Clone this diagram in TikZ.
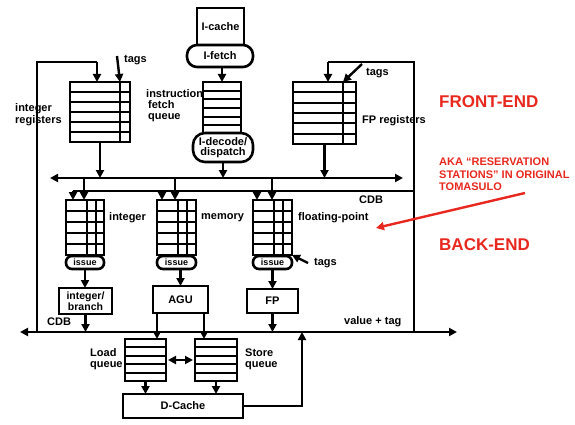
\documentclass[tikz,border=0pt]{standalone}
\usepackage{fontspec}
\setmainfont{Liberation Sans}
\usetikzlibrary{arrows.meta,calc}
\definecolor{redtxt}{RGB}{232,40,30}
\newcommand\lblfont{\fontsize{11}{12}\selectfont\bfseries}
\newcommand\myrows[3]{\foreach \k in {1,...,#3}{\draw[gridln] ($(#1.north west)!\k/#2!(#1.south west)$) -- ($(#1.north east)!\k/#2!(#1.south east)$);}}
\newcommand\mycol[2]{\draw[gridln] ([xshift=#2pt]#1.north west) -- ([xshift=#2pt]#1.south west);}
\begin{document}
\begin{tikzpicture}[x=1pt,y=-1pt,line width=2.4pt,
  bx/.style={draw,fill=white,rectangle,inner sep=0pt,outer sep=0pt,line width=2.6pt,font=\lblfont,align=center},
  arr/.style={-{Triangle[length=8pt,width=8pt]}},
  darr/.style={{Triangle[length=8pt,width=8pt]}-{Triangle[length=8pt,width=8pt]}},
  lbl/.style={inner sep=0pt,font=\lblfont,align=left},
  gridln/.style={line width=2pt},
  rtxt/.style={inner sep=0pt,text=redtxt,align=left}]
\useasboundingbox (0,0) rectangle (575,425);

% ---------- front end ----------
\node[bx,minimum width=47pt,minimum height=37pt] (icache) at (220.5,26.5) {I-cache};
\node[bx,rounded corners=10pt,minimum width=66pt,minimum height=22pt] (ifetch) at (220,56) {I-fetch};
\node[bx,minimum width=38pt,minimum height=52pt] (fq) at (222,108) {};
\myrows{fq}{6}{5}
\node[bx,rounded corners=12pt,minimum width=60pt,minimum height=29pt,font=\fontsize{11}{10}\selectfont\bfseries] (idec) at (223,147.5) {I-decode/\\dispatch};

\node[bx,minimum width=60pt,minimum height=60pt] (intreg) at (100,112) {};
\myrows{intreg}{6}{5}
\mycol{intreg}{50}
\node[bx,minimum width=63pt,minimum height=62pt] (fpreg) at (324.5,113) {};
\myrows{fpreg}{6}{5}
\mycol{fpreg}{50}

% ---------- reservation stations ----------
\node[bx,minimum width=38pt,minimum height=55pt] (rs1) at (85,227.5) {};
\node[bx,minimum width=39pt,minimum height=55pt] (rs2) at (176.5,227.5) {};
\node[bx,minimum width=39pt,minimum height=55pt] (rs3) at (272.5,227.5) {};
\foreach \r in {rs1,rs2,rs3}{\myrows{\r}{5}{4}\mycol{\r}{21}\mycol{\r}{30}}
\node[bx,rounded corners=6pt,minimum width=38pt,minimum height=13pt,font=\fontsize{9}{9}\selectfont\bfseries] (is1) at (85,262.5) {issue};
\node[bx,rounded corners=6pt,minimum width=39pt,minimum height=13pt,font=\fontsize{9}{9}\selectfont\bfseries] (is2) at (176.5,262.5) {issue};
\node[bx,rounded corners=6pt,minimum width=39pt,minimum height=13pt,font=\fontsize{9}{9}\selectfont\bfseries] (is3) at (272.5,262.5) {issue};

% ---------- execution units ----------
\node[bx,minimum width=53pt,minimum height=26pt,font=\fontsize{10.5}{9.5}\selectfont\bfseries] (ib) at (85.5,301) {integer/\\branch};
\node[bx,minimum width=55pt,minimum height=27pt] (agu) at (180.5,299.5) {AGU};
\node[bx,minimum width=51pt,minimum height=24pt] (fpu) at (272.5,301) {FP};

% ---------- memory ----------
\node[bx,minimum width=41pt,minimum height=42pt] (lq) at (145.5,360) {};
\myrows{lq}{5}{4}
\node[bx,minimum width=42pt,minimum height=42pt] (sq) at (216,360) {};
\myrows{sq}{5}{4}
\node[bx,minimum width=120pt,minimum height=24pt] (dc) at (183,406) {D-Cache};

% ---------- coordinates ----------
\coordinate (ltop) at (37,62); \coordinate (lbot) at (37,332);
\coordinate (ltopr) at (97,62);
\coordinate (rtop) at (414,62); \coordinate (rbot) at (414,332);
\coordinate (rtopl) at (328,62);
\coordinate (tbL) at (50,178); \coordinate (tbR) at (403,178);
\coordinate (cdbR) at (414,191); \coordinate (cdbL) at (73,191);
\coordinate (bL) at (20,332); \coordinate (bR) at (457,332);
\coordinate (dcr) at (302,332);
\coordinate (tg1) at (117,56); \coordinate (tg2) at (362,64); \coordinate (tg3) at (308,263);
\coordinate (ra1) at (525,193); \coordinate (ra2) at (376,228);
\coordinate (c2) at ([xshift=5pt]rs2.north west);
\coordinate (c3) at ([xshift=4pt]rs3.north west);
\coordinate (t1) at ([xshift=18pt]rs1.north west);
\coordinate (t2) at ([xshift=18pt]rs2.north west);
\coordinate (t3) at ([xshift=19pt]rs3.north west);
\coordinate (a1) at ([xshift=4pt]agu.south west);
\coordinate (a2) at ([xshift=-4pt]agu.south east);

% ---------- connectors ----------
\draw (lbot) -- (ltop) -- (ltopr);
\draw[arr] (ltopr) -- (ltopr |- intreg.north);
\draw[arr] (tg1) -- ([xshift=-10pt]intreg.north east);
\draw (rbot) -- (rtop) -- (rtopl);
\draw[arr] (rtopl) -- (rtopl |- fpreg.north);
\draw[arr] (tg2) -- ([xshift=-13pt]fpreg.north east);
\draw[arr] (fq.north |- ifetch.south) -- (fq.north);
\draw[darr] (tbL) -- (tbR);
\draw[arr] (intreg.south) -- (intreg.south |- tbL);
\draw[arr] (idec.south) -- (idec.south |- tbL);
\draw[arr] (fpreg.south) -- (fpreg.south |- tbL);
\draw (cdbR) -- (cdbL);
\draw[arr] (cdbL) -- (cdbL |- rs1.north);
\draw[arr] (c2 |- cdbL) -- (c2);
\draw[arr] (c3 |- cdbL) -- (c3);
\draw[arr] (t1 |- tbL) -- (t1);
\draw[arr] (t2 |- tbL) -- (t2);
\draw[arr] (t3 |- tbL) -- (t3);
\draw[arr] (tg3) -- (rs3.south east);
\draw[arr] (is1.south) -- (is1.south |- ib.north);
\draw[arr] (agu.north |- is2.south) -- (agu.north);
\draw[arr] (is3.south) -- (is3.south |- fpu.north);
\draw[darr] (bL) -- (bR);
\draw[arr] (ib.south) -- (ib.south |- bL);
\draw[arr] (fpu.south) -- (fpu.south |- bL);
\draw[arr] (a1) -- (a1 |- lq.north);
\draw[arr] (a2) -- (a2 |- sq.north);
\draw[darr] ([xshift=2pt]lq.east) -- ([xshift=-2pt]sq.west);
\draw[arr] (lq.south) -- (lq.south |- dc.north);
\draw[arr] (sq.south) -- (sq.south |- dc.north);
\draw[arr] (dc.east) -| (dcr);
\draw[arr,draw=redtxt,line width=2.4pt] (ra1) -- (ra2);

% ---------- labels ----------
\node[lbl,anchor=west] (lintreg) at (14,115) {integer\\registers};
\node[lbl,anchor=west] (ltags1) at (123,60) {tags};
\node[lbl,anchor=west,font=\fontsize{11}{11}\selectfont\bfseries] (lfq) at (145,106) {instruction\\\hspace*{2pt}fetch\\\hspace*{2pt}queue};
\node[lbl,anchor=west] (lfpreg) at (361,121) {FP registers};
\node[lbl,anchor=west] (ltags2) at (365,73) {tags};
\node[lbl,anchor=west] (lint) at (108,218) {integer};
\node[lbl,anchor=west] (lmem) at (200,218) {memory};
\node[lbl,anchor=west] (lfp) at (297,218) {floating-point};
\node[lbl,anchor=west] (lcdb1) at (358,200) {CDB};
\node[lbl,anchor=west] (ltags3) at (313,263) {tags};
\node[lbl,anchor=west] (lcdb2) at (46,322) {CDB};
\node[lbl,anchor=west] (lvt) at (343,322) {value + tag};
\node[lbl,anchor=west,font=\fontsize{11}{11}\selectfont\bfseries] (llq) at (89,359) {Load\\queue};
\node[lbl,anchor=west,font=\fontsize{11}{11}\selectfont\bfseries] (lsq) at (244,359) {Store\\queue};

\node[rtxt,anchor=west,font=\fontsize{17}{18}\selectfont\bfseries] (front) at (438,102) {FRONT-END};
\node[rtxt,anchor=north west,font=\fontsize{11}{12.5}\selectfont\bfseries] (aka) at (438,157) {AKA “RESERVATION\\STATIONS” IN ORIGINAL\\TOMASULO};
\node[rtxt,anchor=west,font=\fontsize{17}{18}\selectfont\bfseries] (back) at (438,245) {BACK-END};
\end{tikzpicture}
\end{document}
